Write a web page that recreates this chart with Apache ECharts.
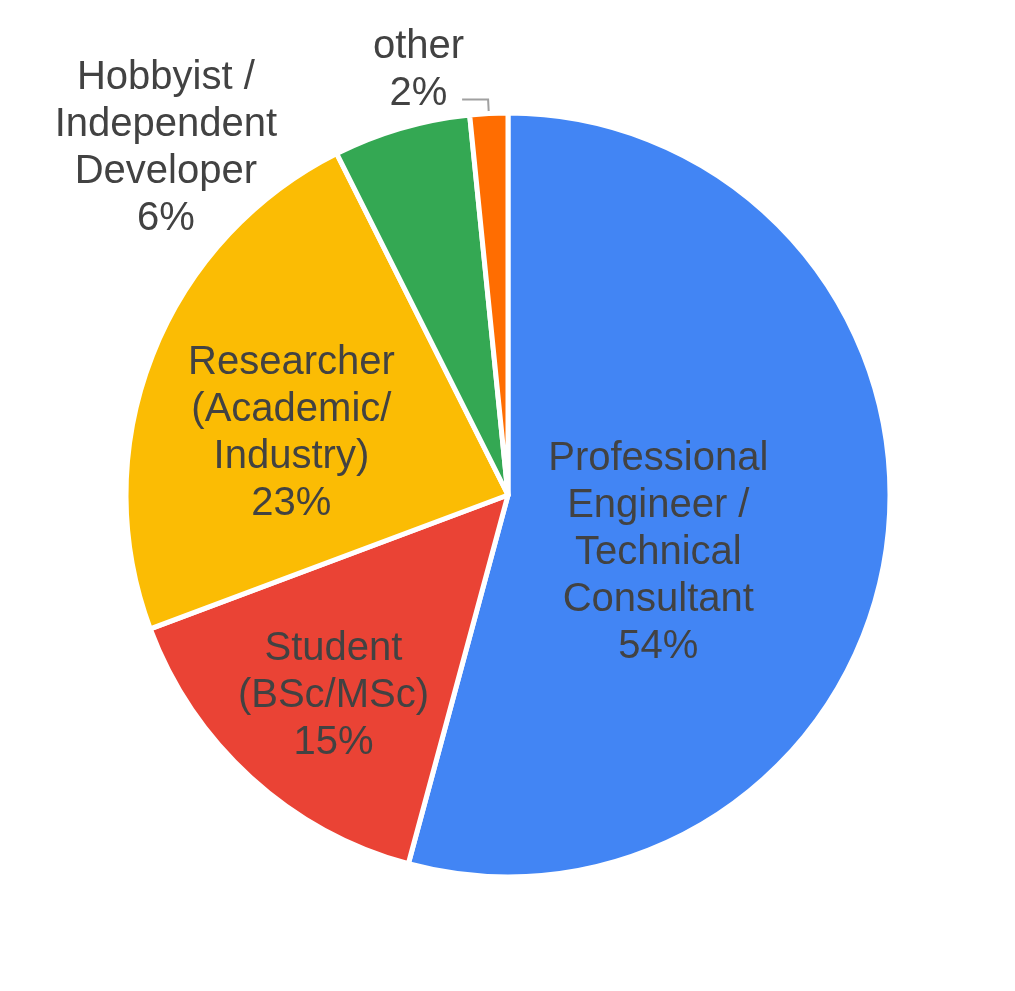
<!DOCTYPE html>
<html>
<head>
<meta charset="utf-8">
<script src="https://cdn.jsdelivr.net/npm/echarts@6/dist/echarts.min.js"></script>
<style>
  html, body { margin: 0; padding: 0; background: #fff; }
  #chart { width: 1015px; height: 991px; }
</style>
</head>
<body>
<div id="chart"></div>
<script>
// slices, clockwise from 12 o'clock
var names = ['Professional\nEngineer /\nTechnical\nConsultant', 'Student\n(BSc/MSc)', 'Researcher\n(Academic/\nIndustry)', 'Hobbyist /\nIndependent\nDeveloper', 'other'];
var values = [54.2, 15.1, 23.3, 5.8, 1.6];
var colors = ['#4285F4', '#EA4335', '#FBBC04', '#34A853', '#FF6D01'];
// label nudges from the default inside spot
var offsets = [[-42, 32], [-44, 57], [-36, 9], [-288, -160], null];

var chart = echarts.init(document.getElementById('chart'));

var data = values.map(function (v, i) {
  var item = { name: names[i], value: v, itemStyle: { color: colors[i] } };
  if (offsets[i]) {
    item.label = { position: 'inside', offset: offsets[i] };
    item.labelLine = { show: false };
  } else {
    item.label = {
      position: 'outside',
      padding: [0, 0, 58, 0],
      distanceToLabelLine: -2,
      formatter: function (p) {
        return '{c|' + p.name + '}\n{c|' + Math.round(p.percent) + '%}';
      },
      rich: { c: { align: 'center', fontSize: 40, lineHeight: 47, color: '#424242', fontFamily: 'Liberation Sans, Arial, sans-serif' } }
    };
    item.labelLine = { show: true, length: 14, length2: 26, lineStyle: { color: '#a0a0a0', width: 2 } };
  }
  return item;
});

chart.setOption({
  animation: false,
  series: [{
    type: 'pie',
    center: [508, 495],
    radius: 382,
    startAngle: 90,
    clockwise: true,
    avoidLabelOverlap: false,
    itemStyle: { borderColor: '#ffffff', borderWidth: 5 },
    label: {
      show: true,
      fontSize: 40,
      lineHeight: 47,
      color: '#424242',
      fontFamily: 'Liberation Sans, Arial, sans-serif',
      align: 'center',
      formatter: function (p) {
        return p.name + '\n' + Math.round(p.percent) + '%';
      }
    },
    emphasis: { disabled: true },
    data: data
  }]
});
</script>
</body>
</html>
